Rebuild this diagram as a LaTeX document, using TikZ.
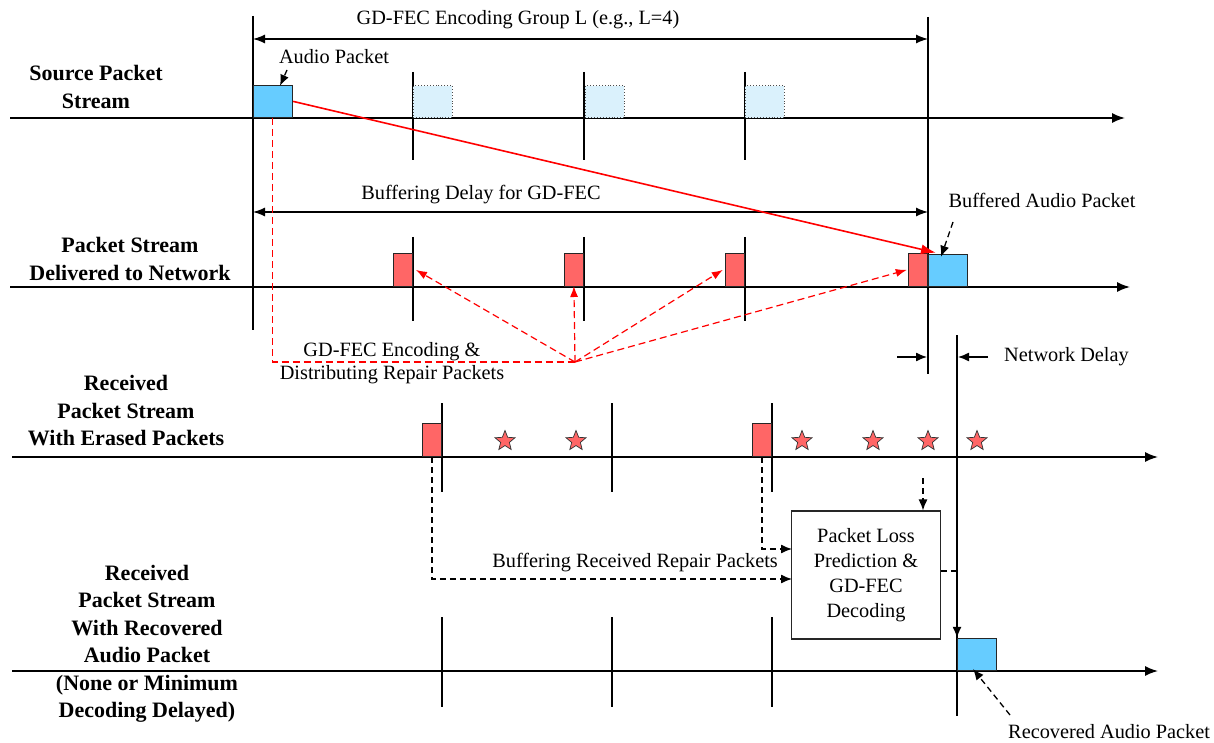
\documentclass[tikz,border=0pt]{standalone}
\usepackage{fontspec}
\setmainfont{Liberation Serif}
\usetikzlibrary{arrows.meta,shapes.geometric}
\definecolor{pktblue}{HTML}{66CCFF}
\definecolor{pktlight}{HTML}{DAF1FC}
\definecolor{pktred}{HTML}{FF6666}
\definecolor{lnred}{HTML}{FF0000}
\tikzset{
  axisline/.style={line width=1.6pt,-{Latex[length=13pt,width=10pt]}},
  tickline/.style={line width=1.1pt},
  bluepkt/.style={draw=black!85,line width=1.2pt,fill=pktblue,inner sep=0,anchor=south west,minimum width=39pt,minimum height=32pt},
  ghostpkt/.style={draw=black!70,dotted,line width=0.9pt,fill=pktlight,inner sep=0,anchor=south west,minimum width=39pt,minimum height=32pt},
  redpkt/.style={draw=black!85,line width=1.2pt,fill=pktred,inner sep=0,anchor=south east,minimum width=19pt,minimum height=33pt},
  lost/.style={star,star points=5,star point ratio=2.3,draw=black!80,line width=0.7pt,fill=pktred,minimum size=21pt,inner sep=0},
  dimarrow/.style={line width=1.3pt,{Latex[length=12pt,width=9pt]}-{Latex[length=12pt,width=9pt]}},
  sarrow/.style={line width=1.3pt,-{Latex[length=11pt,width=9pt]}},
  reddash/.style={lnred,line width=1.2pt,dash pattern=on 7pt off 4pt,-{Latex[length=11pt,width=8pt]}},
  blkdash/.style={black,line width=1.3pt,dash pattern=on 6pt off 4pt,-{Latex[length=11pt,width=9pt]}},
  txt/.style={font=\fontsize{20.3}{23.5}\selectfont,inner sep=1pt},
  lbl/.style={font=\fontsize{22}{27.5}\selectfont\bfseries,align=center,inner sep=0},
}
\begin{document}
\begin{tikzpicture}[x=1pt,y=-1pt]
\useasboundingbox (0,0) rectangle (1214,743);

% ---------- left labels ----------
\node[lbl] (l1) at (96,87) {Source Packet\\Stream};
\node[lbl] (l2) at (130,259) {Packet Stream\\Delivered to Network};
\node[lbl] (l3) at (126,411) {Received\\Packet Stream\\With Erased Packets};
\node[lbl] (l4) at (147,644) {Received\\Packet Stream\\With Recovered\\Audio Packet\\(None or Minimum\\Decoding Delayed)};

% ---------- axes ----------
\coordinate (a1s) at (10,118);  \coordinate (a1e) at (1125,118);
\coordinate (a2s) at (10,287);  \coordinate (a2e) at (1130,287);
\coordinate (a3s) at (12,457);  \coordinate (a3e) at (1158,457);
\coordinate (a4s) at (12,671);  \coordinate (a4e) at (1158,671);
\draw[axisline] (a1s) -- (a1e);
\draw[axisline] (a2s) -- (a2e);
\draw[axisline] (a3s) -- (a3e);
\draw[axisline] (a4s) -- (a4e);

% ---------- vertical ticks ----------
\draw[tickline] (253,16) -- (253,330);
\draw[tickline] (928,17) -- (928,374);
\draw[tickline] (957,335) -- (957,716);
\foreach \x in {413,584,745}{
  \draw[tickline] (\x,72) -- (\x,160);
  \draw[tickline] (\x,237) -- (\x,321);
}
\foreach \x in {442,612,772}{
  \draw[tickline] (\x,403) -- (\x,492);
  \draw[tickline] (\x,617) -- (\x,707);
}

% ---------- row 1 packets ----------
\node[bluepkt] (ap) at (253,118) {};
\node[ghostpkt] (g1) at (413,118) {};
\node[ghostpkt] (g2) at (585,118) {};
\node[ghostpkt] (g3) at (745,118) {};

% ---------- row 2 packets ----------
\node[redpkt] (r1) at (413,287) {};
\node[redpkt] (r2) at (584,287) {};
\node[redpkt] (r3) at (745,287) {};
\node[redpkt] (r4) at (928,287) {};
\node[bluepkt] (bap) at (928,287) {};

% ---------- row 3 packets ----------
\node[redpkt] (r5) at (442,457) {};
\node[redpkt] (r6) at (772,457) {};
\foreach \x/\n in {505/s1,576/s2,802/s3,873/s4,928/s5,977/s6}{
  \node[lost] (\n) at (\x,441) {};
}

% ---------- row 4 ----------
\node[bluepkt] (rap) at (957,671) {};
\node[draw=black!85,line width=1.1pt,minimum width=149pt,minimum height=128pt,inner sep=0,
      align=center,font=\fontsize{20.3}{25}\selectfont] (dec) at (866,575)
      {Packet Loss\\Prediction \&\\GD-FEC\\Decoding};

% ---------- dimension arrows and texts ----------
\coordinate (gl) at (253,39); \coordinate (gr) at (928,39);
\draw[dimarrow] (gl) -- (gr);
\node[txt] (gtxt) at (518,20) {GD-FEC Encoding Group L (e.g., L=4)};

\coordinate (bl) at (253,212); \coordinate (br) at (928,212);
\draw[dimarrow] (bl) -- (br);
\node[txt] (btxt) at (481,195) {Buffering Delay for GD-FEC};

\node[txt] (aptxt) at (334,57) {Audio Packet};
\coordinate (apa) at (287,70);
\draw[blkdash] (apa) -- ([xshift=27pt,yshift=-1pt]ap.north west);

\node[txt] (baptxt) at (1042,200) {Buffered Audio Packet};
\coordinate (bapa) at (953,222);
\draw[blkdash] (bapa) -- ([xshift=13pt,yshift=-3pt]bap.north west);

% network delay
\coordinate (nd1) at (897,357); \coordinate (nd2) at (988,357);
\draw[sarrow] (nd1) -- (927,357);
\draw[sarrow] (nd2) -- (958,357);
\node[txt,anchor=west] (ndtxt) at (1003,357) {Network Delay};

% ---------- red solid arrow ----------
\draw[lnred,line width=1.6pt,-{Latex[length=15pt,width=10pt]}] (ap.east) -- ([xshift=8pt,yshift=1pt]bap.north west);

% ---------- red dashed encoding arrows ----------
\coordinate (hub) at (575,362);
\coordinate (drop) at (272.5,118);
\draw[lnred,line width=1.5pt,dash pattern=on 7pt off 4pt] (drop) -- (drop |- hub) -- (hub);
\draw[reddash] (hub) -- ([xshift=3pt]r1.east);
\draw[reddash] (hub) -- ([yshift=1pt]r2.south);
\draw[reddash] (hub) -- ([xshift=-2pt]r3.west);
\draw[reddash] (hub) -- ([xshift=-1pt]r4.west);
\node[txt,align=center] (enctxt) at (392,363) {GD-FEC Encoding \&\\Distributing Repair Packets};

% ---------- black dashed decoding arrows ----------
\coordinate (d1) at (792,579);
\coordinate (d2) at (792,549);
\draw[blkdash] (r5.south) -- (r5.south |- d1) -- (d1);
\draw[blkdash] (r6.south) -- (r6.south |- d2) -- (d2);
\node[txt,anchor=east] (brtxt) at (779,563) {Buffering Received Repair Packets};

\coordinate (dtop) at (923,478);
\draw[blkdash] (dtop) -- (dtop |- dec.north);
\coordinate (dout) at (957,571);
\draw[black,line width=1.3pt,dash pattern=on 6pt off 4pt] (dec.east |- dout) -- (dout);
\draw[blkdash] (dout) -- (rap.north west);

% recovered
\coordinate (rca) at (1010,715);
\draw[blkdash] (rca) -- ([xshift=16pt,yshift=2pt]rap.south west);
\node[txt,anchor=west] (rctxt) at (1007,732) {Recovered Audio Packet};
\end{tikzpicture}
\end{document}
